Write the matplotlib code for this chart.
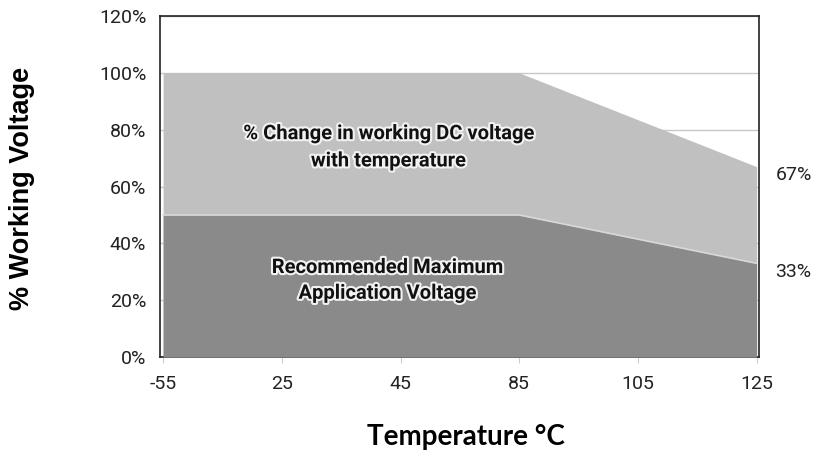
import matplotlib.pyplot as plt
import matplotlib.patheffects as pe
import numpy as np

temps = ['-55', '25', '45', '85', '105', '125']
working_dc = [100, 100, 100, 100, 83.5, 67]
recommended = [50, 50, 50, 50, 41.5, 33]
yticks = [0, 20, 40, 60, 80, 100, 120]
end_labels = ['67%', '33%']

x = np.arange(len(temps))

fig = plt.figure(figsize=(8.17, 4.55), dpi=100)
ax = fig.add_axes([0.196, 0.215, 0.733, 0.75])

ax.set_yticks(yticks)
ax.yaxis.grid(True, color='#c8c8c8', linewidth=1, zorder=0)
ax.set_axisbelow(True)

ax.fill_between(x, 0, working_dc, color='#c0c0c0', linewidth=0, zorder=2)
ax.fill_between(x, 0, recommended, color='#8a8a8a', linewidth=0, zorder=3)
ax.plot(x, recommended, color='#d8d8d8', linewidth=1.2, zorder=4)

ax.set_xlim(-0.025, 5.02)
ax.set_ylim(0, 120)
ax.set_xticks(x)
ax.set_xticklabels(temps)
ax.set_yticklabels([f'{v}%' for v in yticks])
ax.tick_params(axis='y', length=0, pad=10, labelsize=14, labelcolor='#222222')
ax.tick_params(axis='x', length=4, color='#cccccc', pad=9, labelsize=14, labelcolor='#222222')
for lab in ax.get_xticklabels() + ax.get_yticklabels():
    lab.set_family('Roboto')

for s in ax.spines.values():
    s.set_color('#222222')
    s.set_linewidth(1.2)

glow = [pe.withStroke(linewidth=3, foreground='#f2f2f2')]
ax.text(1.9, 73.8, '% Change in working DC voltage\nwith temperature', ha='center', va='center',
        fontsize=14.5, fontweight='bold', family='Roboto', color='#111111',
        linespacing=1.55, path_effects=glow, zorder=5)
ax.text(1.89, 27, 'Recommended Maximum\nApplication Voltage', ha='center', va='center',
        fontsize=14.5, fontweight='bold', family='Roboto', color='#111111',
        linespacing=1.45, path_effects=glow, zorder=5)

ax.text(5.16, working_dc[-1] - 3, end_labels[0], ha='left', va='center',
        fontsize=14, family='Roboto', color='#222222')
ax.text(5.16, recommended[-1] - 3, end_labels[1], ha='left', va='center',
        fontsize=14, family='Roboto', color='#222222')

fig.text(0.027, 0.585, '% Working Voltage', rotation=90, ha='center', va='center',
         fontsize=19.5, fontweight='bold', family='Liberation Sans')
fig.text(0.57, 0.04, 'Temperature \u00b0C', ha='center', va='center',
         fontsize=20, fontweight='bold', family='Lato')

fig.savefig('out.png', dpi=100)
